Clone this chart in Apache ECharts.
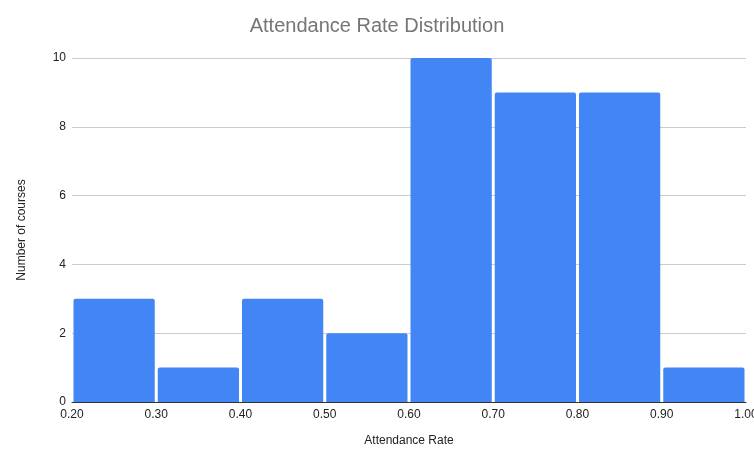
<!DOCTYPE html>
<html>
<head>
<meta charset="utf-8">
<script src="https://cdn.jsdelivr.net/npm/echarts@6/dist/echarts.min.js"></script>
<style>
  html, body { margin: 0; padding: 0; background: #fff; }
  #chart { width: 754px; height: 465px; }
</style>
</head>
<body>
<div id="chart"></div>
<script>
// bin edges and counts
const binStarts = [0.2, 0.3, 0.4, 0.5, 0.6, 0.7, 0.8, 0.9];
const binEnds = [0.3, 0.4, 0.5, 0.6, 0.7, 0.8, 0.9, 1.0];
const counts = [3, 1, 3, 2, 10, 9, 9, 1];

const data = binStarts.map((s, i) => [s, binEnds[i], counts[i]]);
const font = "Arial, 'Liberation Sans', sans-serif";

const chart = echarts.init(document.getElementById("chart"));

chart.setOption({
  backgroundColor: "#ffffff",
  animation: false,
  title: {
    text: "Attendance Rate Distribution",
    left: "center",
    top: 11,
    textStyle: {
      color: "#757575",
      fontSize: 20,
      fontWeight: "normal",
      fontFamily: font,
    },
  },
  grid: { left: 72, right: 8, top: 58, bottom: 63, outerBoundsMode: "none", containLabel: false },
  xAxis: {
    type: "value",
    min: 0.2,
    max: 1.0,
    interval: 0.1,
    name: "Attendance Rate",
    nameLocation: "middle",
    nameGap: 33,
    nameTextStyle: { color: "#222", fontSize: 12, fontFamily: font },
    axisLine: { show: true, lineStyle: { color: "#333", width: 1 } },
    axisTick: { show: false },
    splitLine: { show: false },
    axisLabel: {
      color: "#222",
      fontSize: 12,
      margin: 7,
      fontFamily: font,
      formatter: (v) => v.toFixed(2),
    },
  },
  yAxis: {
    type: "value",
    min: 0,
    max: 10,
    interval: 2,
    name: "Number of courses",
    nameLocation: "middle",
    nameGap: 44,
    nameTextStyle: { color: "#222", fontSize: 12, fontFamily: font },
    axisLine: { show: false },
    axisTick: { show: false },
    axisLabel: { color: "#222", fontSize: 12, margin: 6, fontFamily: font },
    splitLine: { lineStyle: { color: "#cccccc", width: 1 } },
  },
  series: [
    {
      type: "custom",
      data: data,
      encode: { x: [0, 1], y: 2 },
      renderItem: function (params, api) {
        const p0 = api.coord([api.value(0), api.value(2)]);
        const p1 = api.coord([api.value(1), 0]);
        return {
          type: "rect",
          shape: {
            x: p0[0] + 1.5,
            y: p0[1],
            width: p1[0] - p0[0] - 3,
            height: p1[1] - p0[1],
            r: [2, 2, 0, 0],
          },
          style: { fill: "#4285f4" },
        };
      },
      z: 3,
    },
  ],
});
</script>
</body>
</html>
